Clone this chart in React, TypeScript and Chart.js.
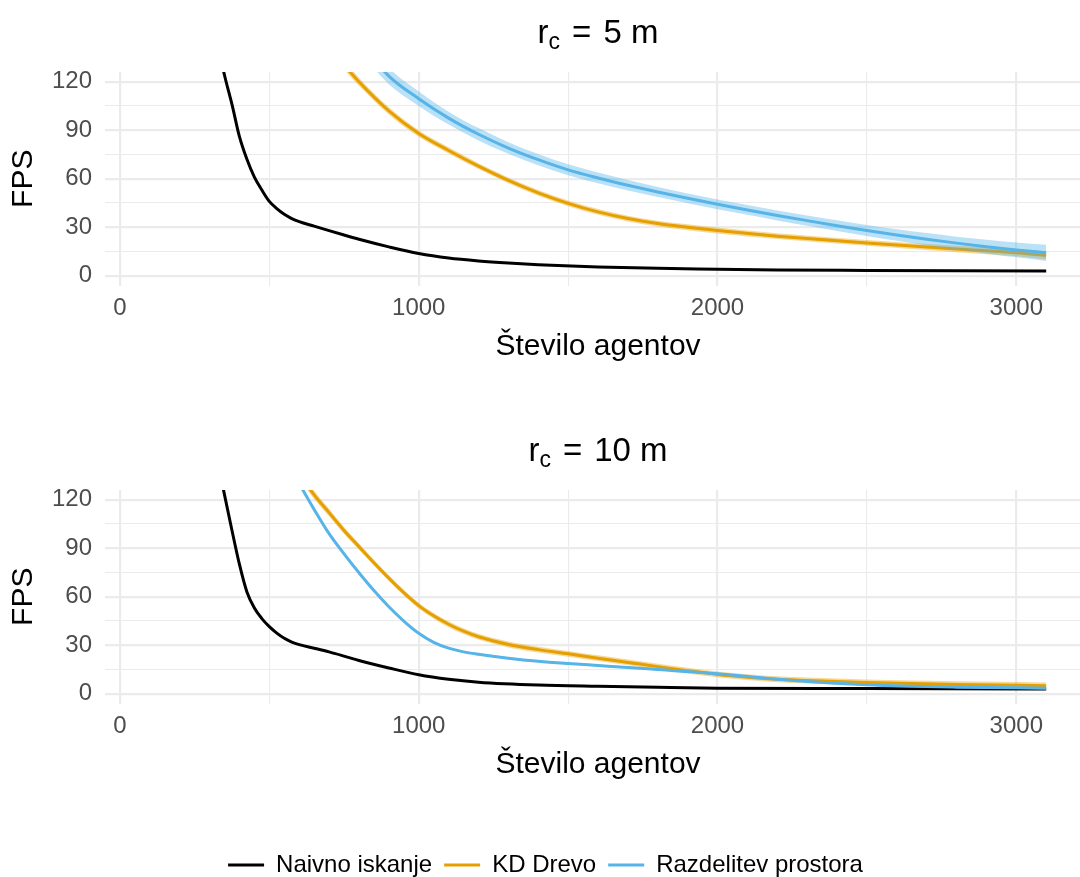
import React, { useEffect, useRef } from "react";
import { Chart, registerables } from "chart.js";

Chart.register(...registerables);

const FONT = '"Liberation Sans", Arial, Helvetica, sans-serif';
Chart.defaults.font.family = FONT;

// ---------- shared labels / styling data ----------
const SERIES_NAMES = ["Naivno iskanje", "KD Drevo", "Razdelitev prostora"];
const SERIES_COLORS = ["#000000", "#E69F00", "#56B4E9"];
const RIBBON_COLORS = ["rgba(0,0,0,0.4)", "rgba(230,159,0,0.4)", "rgba(86,180,233,0.4)"];
const PANEL_VALUES = ["5 m", "10 m"];
const X_TITLE = "Število agentov";
const Y_TITLE = "FPS";
const X_TICKS = [0, 500, 1000, 1500, 2000, 2500, 3000];
const X_LABELED = [0, 1000, 2000, 3000];
const Y_TICKS = [0, 15, 30, 45, 60, 75, 90, 105, 120];
const Y_LABELED = [0, 30, 60, 90, 120];

// ---------- r_c = 5 m ----------
const R5_NAIVE_X = [320, 350, 375, 400, 425, 450, 475, 500, 525, 550, 575, 600, 650, 700, 750, 800, 900, 1000, 1100, 1200, 1300, 1400, 1600, 1800, 2000, 2200, 2500, 2800, 3100];
const R5_NAIVE_Y = [150, 124, 106, 86, 72, 61, 53, 46, 41.5, 38, 35.4, 33.5, 30.7, 27.9, 25.2, 22.6, 17.9, 13.8, 11, 9.2, 7.9, 6.9, 5.5, 4.6, 4.1, 3.6, 3.3, 3.1, 3.0];

const R5_KD_X = [700, 800, 900, 1000, 1100, 1200, 1300, 1400, 1500, 1600, 1700, 1800, 1900, 2000, 2200, 2500, 2800, 3000, 3100];
const R5_KD_Y = [141, 120, 102, 88, 77.5, 67.8, 59, 51.3, 44.8, 39.5, 35.4, 32.3, 30, 28, 24.5, 20.3, 16.6, 14.3, 12.5];
const R5_KD_BAND = [3, 2.5, 2.2, 2, 1.9, 1.8, 1.8, 1.8, 1.8, 1.8, 1.8, 1.8, 1.8, 1.8, 1.8, 1.8, 2, 2.2, 2.4];

const R5_RP_X = [800, 900, 1000, 1100, 1200, 1300, 1400, 1500, 1600, 1700, 1800, 1900, 2000, 2100, 2200, 2300, 2400, 2500, 2600, 2700, 2800, 2900, 3000, 3100];
const R5_RP_Y = [145, 123.5, 109.5, 97.5, 87.5, 79, 71.8, 65.5, 60.5, 56, 51.8, 47.9, 44.2, 40.7, 37.3, 34.1, 31, 28, 25.2, 22.6, 20.2, 18, 16, 14.2];
const R5_RP_BAND = [6, 5, 4.5, 4, 3.8, 3.6, 3.5, 3.4, 3.3, 3.2, 3.1, 3, 3, 3, 3.1, 3.2, 3.3, 3.4, 3.6, 3.8, 4, 4.3, 4.6, 5];

// ---------- r_c = 10 m ----------
const R10_NAIVE_X = [320, 350, 375, 400, 425, 450, 475, 500, 525, 550, 575, 600, 650, 700, 750, 800, 900, 1000, 1100, 1200, 1400, 1600, 1800, 2000, 2500, 3100];
const R10_NAIVE_Y = [150, 123, 101, 80, 63, 53, 46.5, 41.5, 37.5, 34.3, 32, 30.4, 28.2, 25.9, 23.3, 20.6, 16, 11.8, 9, 7.2, 5.4, 4.6, 4, 3.5, 3.2, 3];

const R10_KD_X = [600, 650, 700, 750, 800, 850, 900, 950, 1000, 1050, 1100, 1150, 1200, 1300, 1400, 1500, 1600, 1700, 1800, 1900, 2000, 2100, 2200, 2300, 2500, 2800, 3100];
const R10_KD_Y = [136, 123, 112, 101, 91, 81, 71.5, 62.5, 54.5, 48.2, 43, 38.7, 35.3, 30.5, 27.3, 24.7, 22, 19.4, 16.8, 14.3, 12, 10.3, 9, 8.2, 7, 5.8, 5];
const R10_KD_BAND = [2.8, 2.6, 2.4, 2.2, 2, 1.9, 1.8, 1.8, 1.8, 1.8, 1.8, 1.8, 1.8, 1.8, 1.8, 1.8, 1.8, 1.8, 1.8, 1.8, 1.8, 1.8, 1.8, 1.8, 1.8, 1.9, 2];

const R10_RP_X = [580, 600, 650, 700, 750, 800, 850, 900, 950, 1000, 1050, 1100, 1150, 1200, 1300, 1400, 1500, 1600, 1700, 1800, 2000, 2200, 2500, 2800, 3100];
const R10_RP_Y = [137, 130, 114, 99, 86.5, 74.8, 63.8, 53.8, 45, 37.4, 31.8, 28.2, 25.9, 24.4, 22, 20.1, 18.7, 17.5, 16.3, 15, 12.4, 9, 5.6, 4.1, 3.5];
const R10_RP_BAND = [0.8, 0.8, 0.7, 0.7, 0.6, 0.6, 0.6, 0.6, 0.6, 0.6, 0.6, 0.6, 0.6, 0.6, 0.6, 0.6, 0.6, 0.6, 0.6, 0.6, 0.6, 0.6, 0.6, 0.7, 0.8];

type Series = { x: number[]; y: number[]; band?: number[] };

function pts(xs: number[], ys: number[]) {
  return xs.map((x, i) => ({ x, y: ys[i] }));
}
function bandPts(xs: number[], ys: number[], bs: number[], sign: number) {
  return xs.map((x, i) => ({ x, y: ys[i] + sign * bs[i] }));
}

function buildDatasets(series: Series[]) {
  const lineOrders = [4, 2, 0];
  const ribbonOrders = [5, 3, 1];
  const lines: any[] = series.map((s, i) => ({
    label: SERIES_NAMES[i],
    data: pts(s.x, s.y),
    borderColor: SERIES_COLORS[i],
    backgroundColor: SERIES_COLORS[i],
    borderWidth: 3,
    pointRadius: 0,
    fill: false,
    order: lineOrders[i],
    cubicInterpolationMode: "monotone",
  }));
  const ribbons: any[] = [];
  series.forEach((s, i) => {
    if (!s.band) return;
    const upperIndex = lines.length + ribbons.length;
    ribbons.push({
      label: SERIES_NAMES[i] + " upper",
      data: bandPts(s.x, s.y, s.band, 1),
      borderColor: "rgba(0,0,0,0)",
      backgroundColor: "rgba(0,0,0,0)",
      borderWidth: 0,
      pointRadius: 0,
      fill: false,
      order: ribbonOrders[i],
      cubicInterpolationMode: "monotone",
    });
    ribbons.push({
      label: SERIES_NAMES[i] + " lower",
      data: bandPts(s.x, s.y, s.band, -1),
      borderColor: "rgba(0,0,0,0)",
      backgroundColor: RIBBON_COLORS[i],
      borderWidth: 0,
      pointRadius: 0,
      fill: upperIndex,
      order: ribbonOrders[i],
      cubicInterpolationMode: "monotone",
    });
  });
  return [...lines, ...ribbons];
}

const subTitlePlugin = {
  id: "subTitle",
  afterDraw(chart: any, _args: any, opts: any) {
    const { ctx, chartArea } = chart;
    const mainFont = `33px ${FONT}`;
    const subFont = `23px ${FONT}`;
    ctx.save();
    ctx.fillStyle = "#000000";
    ctx.textBaseline = "alphabetic";
    ctx.textAlign = "left";
    ctx.font = mainFont;
    const wR = ctx.measureText("r").width;
    const wEq = ctx.measureText("=").width;
    const wVal = ctx.measureText(opts.value).width;
    ctx.font = subFont;
    const wC = ctx.measureText("c").width;
    const gap = 12;
    const total = wR + wC + gap + wEq + gap + wVal;
    let x = (chartArea.left + chartArea.right) / 2 - total / 2;
    const y = opts.baseline;
    ctx.font = mainFont;
    ctx.fillText("r", x, y);
    x += wR;
    ctx.font = subFont;
    ctx.fillText("c", x, y + 6);
    x += wC + gap;
    ctx.font = mainFont;
    ctx.fillText("=", x, y);
    x += wEq + gap;
    ctx.fillText(opts.value, x, y);
    ctx.restore();
  },
};

function makeConfig(series: Series[], panelValue: string, withLegend: boolean) {
  const xScaleHeight = withLegend ? 137.5 : 78.9;
  const xTitlePadBottom = withLegend ? 58.6 : 0;
  return {
    type: "line",
    data: { datasets: buildDatasets(series) },
    plugins: [subTitlePlugin],
    options: {
      animation: false,
      responsive: false,
      maintainAspectRatio: false,
      events: [],
      layout: { padding: { top: 72, left: 0, right: 0, bottom: withLegend ? 1 : 5.6 } },
      plugins: {
        subTitle: { value: panelValue, baseline: 43 },
        tooltip: { enabled: false },
        title: { display: false },
        legend: withLegend
          ? {
              display: true,
              position: "bottom",
              align: "center",
              labels: {
                boxWidth: 36,
                boxHeight: 3,
                padding: 12,
                color: "#000000",
                font: { size: 24, family: FONT },
                generateLabels: () =>
                  SERIES_NAMES.map((name, i) => ({
                    text: name,
                    fillStyle: SERIES_COLORS[i],
                    strokeStyle: SERIES_COLORS[i],
                    lineWidth: 0,
                    hidden: false,
                    datasetIndex: i,
                    fontColor: "#000000",
                  })),
              },
            }
          : { display: false },
      },
      scales: {
        x: {
          type: "linear",
          min: -50,
          max: 3250,
          afterBuildTicks: (s: any) => {
            s.ticks = X_TICKS.map((v) => ({ value: v }));
          },
          afterFit: (s: any) => {
            s.height = xScaleHeight;
          },
          ticks: {
            autoSkip: false,
            maxRotation: 0,
            minRotation: 0,
            padding: 8,
            color: "#4D4D4D",
            font: { size: 24, family: FONT },
            callback: (v: any) => (X_LABELED.includes(Number(v)) ? String(v) : ""),
          },
          grid: {
            drawTicks: false,
            color: "#EBEBEB",
            lineWidth: (c: any) => (c.tick && X_LABELED.includes(c.tick.value) ? 2.2 : 1.1),
          },
          border: { display: false },
          title: {
            display: true,
            text: X_TITLE,
            color: "#000000",
            font: { size: 30, family: FONT },
            padding: { top: 0, bottom: xTitlePadBottom },
          },
        },
        y: {
          type: "linear",
          min: -6,
          max: 126,
          afterBuildTicks: (s: any) => {
            s.ticks = Y_TICKS.map((v) => ({ value: v }));
          },
          afterFit: (s: any) => {
            s.width = 105;
          },
          ticks: {
            autoSkip: false,
            padding: 13,
            color: "#4D4D4D",
            font: { size: 24, family: FONT },
            callback: (v: any) => (Y_LABELED.includes(Number(v)) ? String(v) : ""),
          },
          grid: {
            drawTicks: false,
            color: "#EBEBEB",
            lineWidth: (c: any) => (c.tick && Y_LABELED.includes(c.tick.value) ? 2.2 : 1.1),
          },
          border: { display: false },
          title: {
            display: true,
            text: Y_TITLE,
            color: "#000000",
            font: { size: 30, family: FONT },
            padding: { top: 6, bottom: 0 },
          },
        },
      },
    },
  };
}

function Panel(props: { series: Series[]; value: string; legend: boolean; top: number; height: number }) {
  const ref = useRef<HTMLCanvasElement | null>(null);
  useEffect(() => {
    if (!ref.current) return;
    const chart = new Chart(ref.current, makeConfig(props.series, props.value, props.legend) as any);
    return () => chart.destroy();
  }, []);
  return (
    <canvas
      ref={ref}
      width={1091}
      height={props.height}
      style={{ position: "absolute", left: 0, top: props.top, width: 1091, height: props.height, display: "block" }}
    />
  );
}

export default function App() {
  const series5: Series[] = [
    { x: R5_NAIVE_X, y: R5_NAIVE_Y },
    { x: R5_KD_X, y: R5_KD_Y, band: R5_KD_BAND },
    { x: R5_RP_X, y: R5_RP_Y, band: R5_RP_BAND },
  ];
  const series10: Series[] = [
    { x: R10_NAIVE_X, y: R10_NAIVE_Y },
    { x: R10_KD_X, y: R10_KD_Y, band: R10_KD_BAND },
    { x: R10_RP_X, y: R10_RP_Y, band: R10_RP_BAND },
  ];
  return (
    <div
      style={{
        position: "absolute",
        left: 0,
        top: 0,
        width: 1080,
        height: 877,
        overflow: "hidden",
        background: "#FFFFFF",
      }}
    >
      <Panel series={series5} value={PANEL_VALUES[0]} legend={false} top={0} height={370} />
      <Panel series={series10} value={PANEL_VALUES[1]} legend={true} top={418} height={470} />
    </div>
  );
}
